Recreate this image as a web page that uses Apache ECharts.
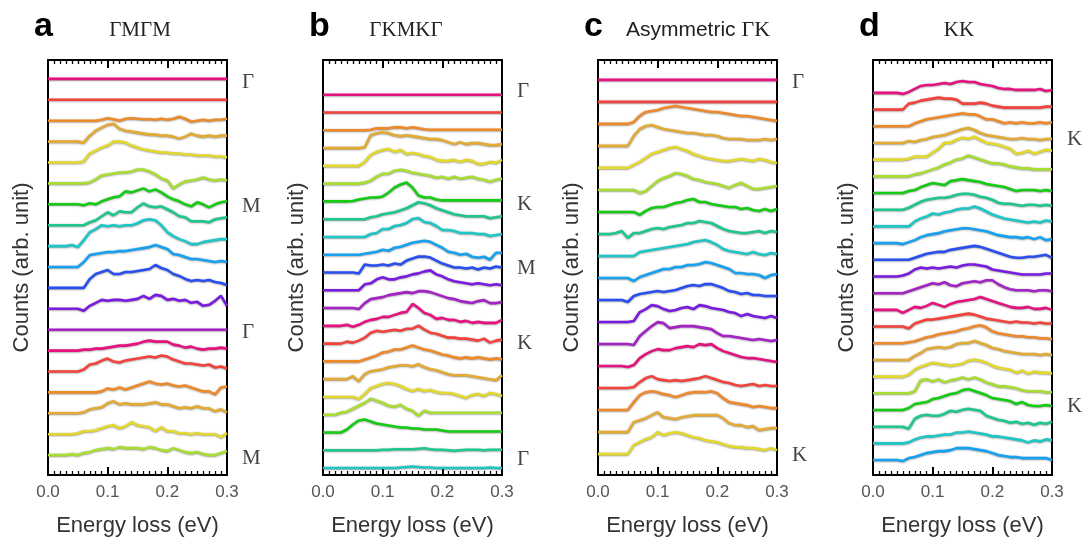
<!DOCTYPE html>
<html>
<head>
<meta charset="utf-8">
<script src="https://cdn.jsdelivr.net/npm/echarts@6/dist/echarts.min.js"></script>
<style>
  html,body{margin:0;padding:0;background:#fff;}
  #chart{width:1089px;height:542px;}
</style>
</head>
<body>
<div id="chart"></div>
<script>
// Energy-loss sampling points (eV)
const energy = [0.00,0.01,0.02,0.03,0.04,0.05,0.06,0.07,0.08,0.09,0.10,0.11,0.12,0.13,0.14,0.15,0.16,0.17,0.18,0.19,0.20,0.21,0.22,0.23,0.24,0.25,0.26,0.27,0.28,0.29,0.30];
const xTicks = [0.0, 0.1, 0.2, 0.3];

// Spectra (counts, arb. unit; same scale in every panel), top curve first
const panelA = [
  [0,0,0,0,0,0,0,0,0,0,0,0,0,0,0,0,0,0,0,0,0,0,0,0,0,0,0,0,0,0,0],
  [0,0,0,0,0,0,0,0,0,0,0,0,0,0,0,0,0,0,0,0,0,0,0,0,0,0,0,0,0,0,0],
  [0,0,0,0,0,0,0,0,0,1,2.5,1.5,0,2,2.5,2,1.5,1.5,1,2,1,2,4,2,-1,0,1,0,1,1,2],
  [0,0,0,0,0,0,-1,6,11,14,17,18,13,11,10,9,8,7,7,6,6,5,3,5,8,6,5,6,5,6,6],
  [0,0,0,0,0,0,1,9,12,15,17,21,21,20,17,15,13,12,11,10,10,9,9,8,8,7,7,7,6,6,5],
  [0,0,0,0,0,0,0,1,4,8,9,10,11,11,12,14,14,12,9,5,3,-5,-1,2,3,4,6,4,3,4,3],
  [0,0,0,0,0,0,-1,1,0,3,5,7,8,13,12,14,16,13,15,12,8,5,3,0,-2,2,0,-3,0,2,3],
  [0,0,0,0,0,0,0,3,5,9,13,10,14,13,13,18,22,19,18,19,16,13,9,8,4,4,4,3,6,7,8],
  [0,0,0,0,1,-1,6,14,17,21,20,21,20,21,21,23,26,27,26,21,14,10,7,5,2,2,4,5,6,7,7],
  [0,0,0,0,0,0,5,12,13,14,15,15,16,16,17,18,19,20,22,20,18,13,12,10,8,8,7,6,5,6,5],
  [0,0,0,0,0,0,0,9,14,16,18,14,14,16,16,17,18,19,23,20,18,14,12,9,7,8,7,8,6,5,3],
  [0,0,0,0,0,0,-2,3,6,9,8,9,9,8,9,10,13,10,14,13,9,10,8,9,6,7,3,4,8,13,3],
  [0,0,0,0,0,0,0,0,0,0,0,0,0,0,0,0,0,0,0,0,0,0,0,0,0,0,0,0,0,0,0],
  [0,0,0,0,0,0,1,1,2,2,3,4,5,5,6,7,9,10,9,9,9,6,5,3,4,2,1,2,2,3,2],
  [0,0,0,0,0,0,2,7,8,11,13,10,9,11,12,13,14,15,14,16,15,12,10,8,8,7,6,7,4,5,3],
  [0,0,0,0,0,0,0,0,0,1,4,3,5,3,5,7,9,11,9,8,9,7,6,7,5,3,1,1,-2,5,6],
  [0,0,0,0,0,0,1,4,5,6,10,12,9,10,9,9,9,10,11,9,9,7,5,6,5,7,5,5,2,4,1],
  [0,0,0,0,0,1,3,3,4,6,8,9,6,8,12,9,8,7,3,7,3,3,1,1,0,1,0,0,0,-3,1],
  [0,0,0,0,1,0,2,3,5,6,7,6,8,7,7,7,6,8,7,5,4,7,5,3,2,3,1,0,0,2,4]
];
const panelB = [
  [0,0,0,0,0,0,0,0,0,0,0,0,0,0,0,0,0,0,0,0,0,0,0,0,0,0,0,0,0,0,0],
  [0,0,0,0,0,0,0,0,0,0,0,0,0,0,0,0,0,0,0,0,0,0,0,0,0,0,0,0,0,0,0],
  [0,0,0,0,0,0,0,0,0.5,2,2,2,3,3,2,3,2,1,0.5,0.5,0.5,0.5,0.5,0.5,0.5,0.5,0.5,0.5,0.5,0.5,0.5],
  [0,0,0,0,0,0,0,1,13,15,16,15,13,12,13,12,11,10,9,9,8,6,4,6,4,5,5,4,3,3,4],
  [0,0,0,0,0,0,0,4,11,14,16,17,14,16,12,13,12,10,9,6,5,5,6,4,6,5,2,2,4,3,6],
  [0,0,0,0,0,0,0,1,3,7,10,10,13,14,13,11,10,9,8,6,7,5,7,5,6,7,5,4,2,4,5],
  [0,0,0,0,0,0.5,2,3,4,4,5,9,14,17,19,14,6,4,4,2,1,1,1,1,1,1,1,1,1,1,1],
  [0,0,0,0,0,0,0,0,2,3,5,6,7,9,11,14,17,16,14,11,9,7,5,4,3,3,3,3,1,2,3],
  [0,0,0,0,0,0,0,0,3,4,8,8,11,12,14,18,19,15,14,11,7,7,6,4,4,4,3,3,1,2,3],
  [0,0,0,0,0,0,0,1,2,3,5,4,7,8,10,12,13,14,13,10,7,3,2,0,1,-2,-3,-2,-5,2,2],
  [0,0,0,0,0,0,-1,8,7,7,8,7,9,8,12,14,16,16,15,12,9,7,5,5,4,5,3,5,4,6,5],
  [0,0,0,0,0,0,0,6,7,11,13,11,11,13,14,16,17,19,20,16,14,11,9,8,7,6,7,6,5,6,5],
  [0,0,0,0,0,0,-1,5,9,10,11,13,14,15,16,15,17,17,16,14,12,10,9,7,6,5,7,8,5,5,6],
  [0,0,0,0,1,-1,1,4,6,7,9,9,11,13,14,22,18,13,11,7,8,6,6,4,5,3,4,3,3,3,6],
  [0,0,0,0,2,1,3,6,11,13,12,13,14,13,15,15,18,14,11,10,8,6,6,5,5,4,3,5,1,3,4],
  [0,0,0,0,0,0,0,2,4,6,9,10,12,12,14,16,14,12,11,9,7,6,4,3,4,3,4,3,2,3,2],
  [0,0,0,0,0,3,-2,5,8,9,10,12,13,14,14,13,15,12,10,9,7,5,4,4,4,3,2,1,0,-1,4],
  [0,0,0,0,0,0,-2,3,9,11,13,14,13,11,8,6,8,6,7,5,4,4,3,1,-1,2,3,1,4,3,1],
  [0,0,0,2,3,6,9,12,16,14,12,9,8,10,6,4,-1,4,2,2,2,2,2,2,2,2,2,2,2,2,2],
  [0,0,0,0,3,8,12,13,11,9,8,7,6,5,5,4,4,3,3,3,2,1,1,1,1,1,1,1,1,1,1],
  [0,0,0,0,0,0,0,0,0,0,0.5,0.5,1,1,1,1,1.5,2,1,0.5,0.5,0,-0.5,0,0.5,0.5,0.5,0,0.5,0.5,0.5],
  [0,0,0,0,0,0,0,0,0,0,0,0,0,0.5,1,1.5,1,0.5,0.5,0,0,0,0,0,0,0,0,0,0.5,0,0]
];
const panelC = [
  [0,0,0,0,0,0,0,0,0,0,0,0,0,0,0,0,0,0,0,0,0,0,0,0,0,0,0,0,0,0,0],
  [0,0,0,0,0,0,0,0,0,0,0,0,0,0,0,0,0,0,0,0,0,0,0,0,0,0,0,0,0,0,0],
  [0,0,0,0,0,0,2,8,12,13,14,16,17,18,17,16,15,14,13,12,12,11,10,9,8,8,7,6,5,4,3],
  [0,0,0,0,0,0,10,17,20,21,19,17,16,15,14,13,13,12,11,11,10,8,7,7,7,6,6,6,7,6,7],
  [0,0,0,0,0,0,3,6,10,14,16,18,20,21,19,17,14,12,10,9,8,7,7,8,9,8,7,9,8,6,5],
  [0,0,0,0,0,0,0,-3,-1,4,9,12,14,17,16,14,11,10,8,7,6,4,2,5,7,4,1,1,2,3,4],
  [0,0,0,0,0,0,0,-3,1,4,5,5,7,9,10,12,13,10,10,8,7,6,5,5,3,4,2,1,3,1,3],
  [0,0,0,1,3,-4,1,1,3,5,6,5,7,8,9,11,11,13,12,11,8,5,3,2,1,1,2,3,1,3,2],
  [0,0,0,0,0,0,0,4,5,6,7,8,9,10,11,12,14,15,16,14,11,7,5,4,3,2,4,2,1,3,2],
  [0,0,0,0,0,0,-3,1,3,5,7,9,9,11,11,13,13,14,16,15,13,11,9,5,5,4,4,3,0,3,4],
  [0,0,0,0,0,-2,4,6,7,8,9,8,9,10,12,14,15,14,16,16,14,12,9,8,6,7,5,5,4,4,4],
  [0,0,0,0,0,0,1,10,13,17,16,13,11,12,14,15,13,17,16,14,13,12,10,9,6,8,6,5,4,6,4],
  [0,0,0,0,0,0,-1,8,13,18,22,21,16,17,18,18,18,17,16,15,11,8,8,7,6,5,4,5,4,3,4],
  [0,0,0,0,0,-1,1,8,12,15,17,16,16,18,19,20,19,22,21,22,18,15,13,11,9,8,8,7,6,5,4],
  [0,0,0,0,0,0,1,6,10,12,9,8,7,8,7,8,9,10,12,10,8,6,5,3,2,3,4,2,3,2,2],
  [0,0,0,0,0,0,8,15,18,19,18,16,15,13,15,17,18,18,18,19,17,12,8,7,6,5,3,4,3,2,2],
  [0,0,0,0,0,0,10,12,14,17,20,15,14,13,15,16,17,17,17,17,17,14,9,7,7,5,6,2,3,4,4],
  [0,0,0,0,0,0,9,12,15,17,22,19,21,22,21,19,17,16,14,13,12,10,8,7,7,6,6,5,4,6,4]
];
const panelD = [
  [0,0,0,0,0,-1,1,4,7,8,8,9,10,9,11,12,11,11,9,8,7,5,4,4,3,3,3,3,4,2,3],
  [0,0,0,0,0,0,6,7,9,10,11,12,11,11,10,6,6,6,7,6,4,3,2,2,2,2,2,2,2,3,3],
  [0,0,0,0,0,0,0,3,5,7,8,9,10,11,12,13,12,12,10,7,7,5,3,4,3,4,3,3,4,3,4],
  [0,0,0,0,0,0,2,1,3,4,6,7,8,10,12,14,15,13,10,8,7,6,5,4,4,5,4,4,3,4,4],
  [0,0,0,0,0,0,1,3,3,3,7,11,17,17,20,22,21,23,20,17,16,15,13,11,6,7,9,6,8,10,9],
  [0,0,0,0,0,0,0,2,3,5,7,9,12,14,17,18,21,19,17,15,13,13,12,10,9,8,8,7,7,7,7],
  [0,0,0,0,0,0,2,3,6,8,10,9,8,12,13,14,13,12,11,9,8,7,6,4,2,3,3,3,2,3,2],
  [0,0,0,0,0,0,2,5,8,10,11,12,12,13,15,16,16,15,13,12,10,7,6,6,5,4,5,5,4,5,4],
  [0,0,0,0,0,0,0,5,8,10,13,12,14,15,17,18,18,20,18,15,12,10,8,7,6,5,4,5,4,6,5],
  [0,0,0,0,0,-1,1,3,6,8,9,10,12,13,14,15,15,14,13,12,10,8,7,6,6,5,6,4,6,3,4],
  [0,0,0,0,0,0,0,2,4,6,7,8,8,10,11,12,13,14,13,11,9,7,5,3,2,2,3,3,4,5,2],
  [0,0,0,0,0,1,3,7,9,8,9,8,9,10,9,11,12,12,11,10,7,6,5,4,3,2,2,2,2,3,3],
  [0,0,0,0,0,0,2,4,6,8,10,9,11,8,7,10,11,12,11,13,13,9,6,4,3,3,3,2,3,3,2],
  [0,0,0,0,0,-3,0,3,2,4,7,5,3,6,8,9,10,11,13,11,9,7,5,3,2,2,3,1,1,2,0],
  [0,0,0,0,0,0,-2,3,5,7,7,8,9,10,11,12,13,12,10,8,7,6,5,4,5,4,4,3,4,3,3],
  [0,0,0,0,0,0,1,2,4,6,7,9,10,11,12,14,15,17,18,16,12,10,9,8,7,7,6,6,5,5,4],
  [0,0,0,0,0,0,0,4,7,11,12,13,12,13,16,17,17,19,17,15,12,11,9,8,7,6,6,6,5,6,5],
  [0,0,0,0,0,0,2,7,10,12,14,13,12,11,12,13,16,17,16,14,11,9,8,7,4,6,3,5,4,4,3],
  [0,0,0,0,0,0,0,2,13,14,12,14,11,13,14,16,14,16,14,11,9,7,7,6,5,3,2,2,2,1,1],
  [0,0,0,0,0,0,2,6,7,8,11,12,14,16,17,20,21,19,17,15,12,11,10,9,6,8,5,4,4,5,4],
  [0,0,0,0,0,0,-2,8,11,12,11,11,13,16,15,17,18,17,16,11,9,7,6,4,5,3,4,2,4,3,5],
  [0,0,0,0,0,0,1,4,6,7,7,8,9,9,11,11,12,11,10,9,7,7,6,5,4,3,1,3,2,4,3],
  [0,0,0,0,0,-1,2,3,5,7,8,9,9,10,12,12,12,11,10,9,7,5,4,3,3,2,2,2,2,2,0]
];

// High-symmetry point labels: [label, curve index (fractional)]
const marksA = [['Γ',0.15],['M',6.1],['Γ',12.15],['M',18.15]];
const marksB = [['Γ',-0.2],['K',6.2],['M',9.8],['K',14],['Γ',20.5]];
const marksC = [['Γ',0.1],['K',17.05]];
const marksD = [['K',2.8],['K',18.8]];

const letters = ['a','b','c','d'];
const titles = ['ΓMΓM','ΓKMKΓ','Asymmetric ΓK','KK'];

const colorCycle = ['#e5127f','#f4433c','#ef8a2b','#e3ab34','#e3d92c','#a9dd32','#14cc14','#1ec78e','#1ec6c6','#16a2f0','#2a4ff0','#7a1ce0','#a323c4'];

// layout (pixels) and vertical offset between stacked curves
const panels = [
  {curves: panelA, marks: marksA, left: 48,  spacing: 21.0,  yMin: -20, yMax: 397, titleX: 140},
  {curves: panelB, marks: marksB, left: 323, spacing: 17.86, yMin: -7,  yMax: 410, titleX: 406},
  {curves: panelC, marks: marksC, left: 598, spacing: 22.12, yMin: -21, yMax: 396, titleX: 698},
  {curves: panelD, marks: marksD, left: 873, spacing: 16.77, yMin: -15, yMax: 402, titleX: 959}
];

const SANS = 'Arial, "Liberation Sans", sans-serif';
const SERIF = '"Times New Roman", "Liberation Serif", serif';

const grid = [], xAxis = [], yAxis = [], series = [], title = [];

function xAxisBase(k, pos) {
  return {
    type: 'value', min: 0, max: 0.3, interval: 0.1, gridIndex: k, position: pos,
    axisLine: {show: true, onZero: false, lineStyle: {color: '#000', width: 2}},
    axisTick: {show: true, inside: true, length: 8, lineStyle: {color: '#000', width: 2}},
    minorTick: {show: true, splitNumber: 10, length: 4, lineStyle: {color: '#000', width: 1.3}},
    splitLine: {show: false}, minorSplitLine: {show: false}
  };
}

panels.forEach((p, k) => {
  grid.push({left: p.left, top: 60, width: 179, height: 417});
  xAxis.push(Object.assign(xAxisBase(k, 'bottom'), {
    axisLabel: {show: true, margin: 9, color: '#555', fontSize: 17, fontFamily: SANS,
      formatter: v => { const t = xTicks.find(q => Math.abs(q - v) < 1e-6); return t === undefined ? '' : t.toFixed(1); }},
    name: 'Energy loss (eV)', nameLocation: 'middle', nameGap: 40,
    nameTextStyle: {fontSize: 22, color: '#333', fontFamily: SANS}
  }));
  xAxis.push(Object.assign(xAxisBase(k, 'top'), {axisLabel: {show: false}}));
  const yCommon = {
    type: 'value', min: p.yMin, max: p.yMax, gridIndex: k,
    axisLine: {show: true, onZero: false, lineStyle: {color: '#000', width: 2}},
    axisTick: {show: false}, axisLabel: {show: false}, splitLine: {show: false}
  };
  yAxis.push(Object.assign({}, yCommon, {
    position: 'left', name: 'Counts (arb. unit)', nameLocation: 'middle', nameGap: 15,
    nameTextStyle: {fontSize: 22, color: '#333', fontFamily: SANS}
  }));
  yAxis.push(Object.assign({}, yCommon, {position: 'right'}));

  const n = p.curves.length;
  p.curves.forEach((c, i) => {
    const base = (n - 1 - i) * p.spacing;
    series.push({
      type: 'line', xAxisIndex: 2 * k, yAxisIndex: 2 * k, showSymbol: false, symbol: 'none',
      silent: true, z: 2 + i,
      data: energy.map((e, j) => [e, base + c[j]]),
      lineStyle: {color: colorCycle[i % colorCycle.length], width: 2.6,
        shadowColor: 'rgba(0,0,0,0.45)', shadowBlur: 2, shadowOffsetY: 0.5}
    });
  });
  // point labels, bound to the top axis so that axis gets a scale and draws its ticks
  series.push({
    type: 'scatter', xAxisIndex: 2 * k + 1, yAxisIndex: 2 * k, symbolSize: 0, silent: true,
    data: p.marks.map(m => ({name: m[0], value: [0.3, (n - 1 - m[1]) * p.spacing]})),
    label: {show: true, position: 'right', distance: 15, formatter: '{b}',
      fontFamily: SERIF, fontSize: 21, color: '#111'}
  });

  title.push({
    text: letters[k], left: p.left - 14, top: 10, padding: 0,
    textStyle: {fontSize: 34, fontWeight: 'bold', fontFamily: SANS, color: '#000'}
  });
  const t = titles[k];
  if (t.startsWith('Asymmetric')) {
    title.push({
      text: '{s|Asymmetric }{g|ΓK}', left: p.titleX, top: 19, padding: 0, textAlign: 'center',
      textStyle: {fontWeight: 'normal', rich: {
        s: {fontSize: 21, fontWeight: 'normal', fontFamily: SANS, color: '#222'},
        g: {fontSize: 22, fontWeight: 'normal', fontFamily: SERIF, color: '#222'}
      }}
    });
  } else {
    title.push({
      text: t, left: p.titleX, top: 20, padding: 0, textAlign: 'center',
      textStyle: {fontSize: 21, fontWeight: 'normal', fontFamily: SERIF, color: '#222'}
    });
  }
});

const chart = echarts.init(document.getElementById('chart'), null, {renderer: 'canvas'});
chart.setOption({
  animation: false,
  backgroundColor: '#fff',
  title, grid, xAxis, yAxis, series
});
</script>
</body>
</html>
